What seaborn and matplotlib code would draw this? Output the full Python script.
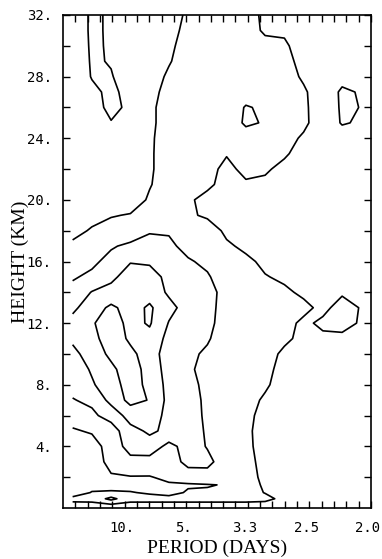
import numpy as np
import matplotlib
matplotlib.use("Agg")
import matplotlib.pyplot as plt
import matplotlib.transforms as mtransforms
import seaborn as sns

# frequency grid (cycles/day) and height grid (km)
freq = [0.0156, 0.0469, 0.0781, 0.1094, 0.1406, 0.1719, 0.2031, 0.2344,
        0.2656, 0.2969, 0.3281, 0.3594, 0.3906, 0.4219, 0.4531, 0.4844]
height = [0.2, 0.6, 1.0, 1.5, 2, 3, 4, 5, 6, 7, 8, 9, 10, 11, 12, 13, 14,
          15, 16, 17, 18, 19, 20, 21, 22, 23, 24, 25, 26, 27, 28, 29, 30, 31, 32]

# spectral power, one row per height (bottom first)
power = [
    [0.75, 0.75, 0.85, 0.75, 0.75, 0.75, 0.75, 0.75, 0.75, 0.75, 0.75, 0.65, 0.6, 0.55, 0.55, 0.5],
    [1.25, 1.3, 2.3, 1.3, 1.3, 1.3, 1.3, 1.3, 1.3, 1.3, 1.2, 0.8, 0.75, 0.65, 0.6, 0.55],
    [0.5, 1.05, 1.1, 1.05, 0.9, 0.7, 1.1, 1.1, 1.2, 1.3, 0.97, 0.75, 0.7, 0.6, 0.6, 0.55],
    [0.6, 0.7, 0.7, 0.7, 0.6, 0.9, 0.9, 0.95, 1.05, 1.3, 0.9, 0.7, 0.65, 0.6, 0.55, 0.5],
    [0.5, 0.5, 0.9, 0.95, 0.95, 1.2, 1.5, 1.7, 1.5, 1.25, 0.85, 0.65, 0.6, 0.55, 0.55, 0.5],
    [0.5, 0.5, 1.3, 1.7, 1.6, 1.5, 2.3, 2.2, 1.6, 1.2, 0.8, 0.6, 0.55, 0.5, 0.5, 0.5],
    [0.6, 0.6, 1.4, 2.4, 2.6, 1.7, 2.4, 1.95, 1.5, 1.15, 0.75, 0.6, 0.55, 0.5, 0.5, 0.5],
    [0.9, 1.1, 1.5, 2.7, 3.15, 2.8, 2.4, 1.9, 1.5, 1.15, 0.7, 0.6, 0.55, 0.5, 0.5, 0.5],
    [1.4, 1.8, 2.4, 3.4, 3.5, 2.7, 2.5, 1.8, 1.5, 1.2, 0.75, 0.6, 0.55, 0.5, 0.5, 0.5],
    [1.95, 2.2, 3.3, 4.3, 3.95, 2.7, 2.4, 1.8, 1.5, 1.25, 0.9, 0.65, 0.6, 0.5, 0.5, 0.5],
    [2.3, 2.9, 3.5, 4.5, 3.7, 2.7, 2.3, 1.75, 1.5, 1.3, 1.1, 0.7, 0.6, 0.55, 0.5, 0.5],
    [2.5, 3.1, 3.8, 4.5, 3.6, 2.6, 2.15, 1.7, 1.5, 1.4, 1.2, 0.75, 0.65, 0.55, 0.55, 0.5],
    [2.7, 3.5, 4.2, 4.2, 3.6, 2.4, 2.2, 1.85, 1.5, 1.5, 1.3, 0.85, 0.7, 0.6, 0.6, 0.6],
    [3.2, 3.7, 4.5, 3.85, 3.7, 2.7, 2.4, 2.1, 1.5, 1.5, 1.35, 1.15, 0.8, 0.85, 0.8, 0.7],
    [3.3, 3.9, 4.5, 3.7, 4.1, 2.95, 2.5, 2.3, 1.5, 1.45, 1.35, 1.25, 0.845, 1.15, 1.3, 0.9],
    [2.8, 3.5, 4.2, 3.6, 4.15, 3.3, 2.6, 2.4, 1.5, 1.4, 1.3, 1.25, 1.2, 0.8, 1.3, 0.95],
    [2.3, 3.05, 3.3, 3.5, 3.6, 2.85, 2.6, 2.5, 1.5, 1.4, 1.2, 1.15, 0.85, 0.75, 0.9, 0.8],
    [1.9, 2.2, 2.8, 3.4, 3.3, 2.8, 2.5, 2.1, 1.5, 1.4, 1.05, 0.85, 0.7, 0.65, 0.7, 0.65],
    [1.6, 1.8, 2.3, 2.95, 2.9, 2.6, 2.1, 1.8, 1.4, 1.2, 0.8, 0.75, 0.65, 0.6, 0.6, 0.6],
    [1.2, 1.5, 1.9, 2.2, 2.2, 2.2, 1.7, 1.7, 1.15, 0.8, 0.65, 0.65, 0.6, 0.55, 0.55, 0.55],
    [0.7, 1.1, 1.3, 1.4, 1.95, 1.9, 1.4, 1.5, 0.8, 0.65, 0.6, 0.6, 0.55, 0.5, 0.5, 0.5],
    [0.65, 0.7, 0.95, 1.05, 1.4, 1.5, 1.15, 0.85, 0.65, 0.6, 0.6, 0.6, 0.55, 0.5, 0.5, 0.5],
    [0.6, 0.65, 0.6, 0.6, 1.1, 1.4, 1.15, 0.7, 0.6, 0.7, 0.65, 0.6, 0.55, 0.5, 0.5, 0.5],
    [0.6, 0.65, 0.6, 0.6, 0.95, 1.35, 1.25, 1.2, 0.65, 0.9, 0.85, 0.65, 0.55, 0.5, 0.5, 0.5],
    [0.55, 0.6, 0.6, 0.6, 0.9, 1.35, 1.3, 1.25, 0.8, 1.2, 1.1, 0.8, 0.6, 0.5, 0.5, 0.5],
    [0.5, 0.6, 0.6, 0.6, 0.9, 1.35, 1.35, 1.3, 1.05, 1.35, 1.2, 1.1, 0.7, 0.55, 0.6, 0.6],
    [0.5, 0.55, 0.6, 0.6, 0.9, 1.3, 1.4, 1.35, 1.3, 1.3, 1.25, 1.25, 0.9, 0.6, 0.7, 0.8],
    [0.45, 0.55, 0.95, 0.7, 0.85, 1.3, 1.4, 1.4, 1.4, 0.9, 1.05, 1.3, 1.15, 0.6, 1.05, 0.93],
    [0.4, 0.6, 1.25, 0.8, 0.85, 1.3, 1.4, 1.4, 1.4, 0.95, 1.1, 1.3, 1.2, 0.4, 1.12, 0.98],
    [0.4, 0.8, 1.2, 0.7, 0.8, 1.2, 1.35, 1.4, 1.4, 1.3, 1.3, 1.3, 1.1, 0.6, 1.1, 0.95],
    [0.35, 1.05, 1.05, 0.6, 0.7, 1.1, 1.35, 1.4, 1.4, 1.3, 1.3, 1.3, 0.9, 0.6, 0.8, 0.85],
    [0.3, 1.1, 0.95, 0.6, 0.65, 0.95, 1.3, 1.35, 1.4, 1.3, 1.25, 1.2, 0.8, 0.55, 0.65, 0.7],
    [0.25, 1.15, 0.9, 0.55, 0.6, 0.85, 1.3, 1.35, 1.4, 1.3, 1.2, 1.1, 0.7, 0.55, 0.6, 0.6],
    [0.2, 1.2, 0.85, 0.5, 0.55, 0.7, 1.25, 1.3, 1.35, 1.3, 0.9, 0.9, 0.6, 0.5, 0.55, 0.55],
    [0.2, 1.2, 0.85, 0.5, 0.5, 0.6, 1.15, 1.3, 1.35, 1.3, 0.85, 0.7, 0.6, 0.5, 0.5, 0.5],
]
levels = [1, 2, 3, 4]

period_ticks = [0.1, 0.2, 0.3, 0.4, 0.5]
period_labels = ["10.", "5.", "3.3", "2.5", "2.0"]
height_ticks = [4, 8, 12, 16, 20, 24, 28, 32]
height_labels = ["4.", "8.", "12.", "16.", "20.", "24.", "28.", "32."]

sns.set_theme(style="ticks")
plt.rcParams["font.family"] = ["DejaVu Sans Mono"]

fig = plt.figure(figsize=(3.82, 5.59), dpi=100)
ax = fig.add_axes([63 / 382, 51 / 559, 308 / 382, 493 / 559])

ax.contour(freq, height, np.array(power), levels=levels,
           colors="black", linewidths=1.2)

ax.set_xlim(0, 0.5)
ax.set_ylim(0, 32)
ax.set_xticks(period_ticks, period_labels)
ax.set_xticks(np.arange(0.02, 0.5, 0.02), minor=True)
ax.set_yticks(height_ticks, height_labels)
ax.set_yticks(np.arange(2, 32, 2), minor=True)
ax.tick_params(which="both", direction="in", top=True, right=True,
               length=5, width=1, color="black")
ax.tick_params(axis="both", labelsize=10, labelcolor="black")
ax.tick_params(axis="x", pad=9)
ax.tick_params(axis="y", pad=8)

for lab in ax.get_xticklabels():
    lab.set_transform(lab.get_transform() +
                      mtransforms.ScaledTranslation(-3 / 100, 0, fig.dpi_scale_trans))

for s in ax.spines.values():
    s.set_linewidth(1.2)
    s.set_color("black")

ax.set_xlabel("PERIOD (DAYS)", family="Liberation Serif", fontsize=14, color="black")
ax.set_ylabel("HEIGHT (KM)", family="Liberation Serif", fontsize=14, color="black")
ax.xaxis.set_label_coords(0.5, -0.065)
ax.yaxis.set_label_coords(-0.11, 0.5)

fig.savefig("out.png", dpi=100)
